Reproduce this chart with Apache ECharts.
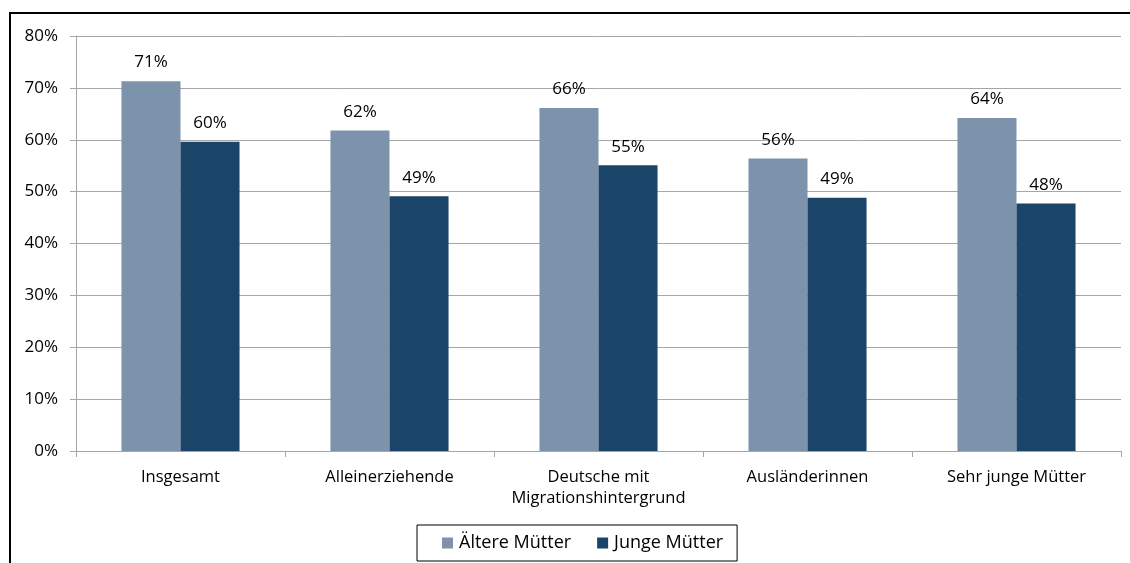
<!DOCTYPE html>
<html>
<head>
<meta charset="utf-8">
<script src="https://cdn.jsdelivr.net/npm/echarts@6/dist/echarts.min.js"></script>
<style>
  html, body { margin: 0; padding: 0; background: #fff; }
  #main { width: 1130px; height: 563px; }
</style>
</head>
<body>
<div id="main"></div>
<script>
const categories = ['Insgesamt', 'Alleinerziehende', 'Deutsche mit\nMigrationshintergrund', 'Ausländerinnen', 'Sehr junge Mütter'];
const aeltere = [71.3, 61.8, 66.1, 56.4, 64.2];
const junge = [59.6, 49.1, 55.1, 48.8, 47.7];
const yTicks = [0, 10, 20, 30, 40, 50, 60, 70, 80];

const FONT = '"Open Sans", "DejaVu Sans", sans-serif';
const chart = echarts.init(document.getElementById('main'));

const labelStyle = {
    show: true,
    position: 'top',
    distance: 10,
    color: '#000',
    fontFamily: FONT,
    fontSize: 17,
    formatter: p => Math.round(p.value) + '%'
};

chart.setOption({
    animation: false,
    graphic: [{
        type: 'rect',
        shape: { x: 10, y: 13, width: 1200, height: 600 },
        style: { fill: 'none', stroke: '#000', lineWidth: 2 },
        z: 0
    }],
    legend: {
        bottom: 2,
        left: 417,
        itemWidth: 11,
        itemHeight: 11,
        itemGap: 26,
        padding: [9, 14, 9, 25],
        borderColor: '#000',
        borderWidth: 1,
        icon: 'rect',
        textStyle: { fontFamily: FONT, fontSize: 18, color: '#000', padding: [0, 0, 0, 1] },
        data: ['Ältere Mütter', 'Junge Mütter']
    },
    grid: { left: 76, right: 9, top: 36, bottom: 112 },
    xAxis: {
        type: 'category',
        data: categories,
        axisLine: { lineStyle: { color: '#a6a6a6' } },
        axisTick: { show: true, length: 6, lineStyle: { color: '#a6a6a6' } },
        axisLabel: { interval: 0, color: '#000', fontFamily: FONT, fontSize: 16.5, margin: 16, lineHeight: 21 }
    },
    yAxis: {
        type: 'value',
        min: yTicks[0],
        max: yTicks[yTicks.length - 1],
        interval: 10,
        axisLine: { show: true, lineStyle: { color: '#a6a6a6' } },
        axisTick: { show: true, length: 6, lineStyle: { color: '#a6a6a6' } },
        splitLine: { lineStyle: { color: '#a6a6a6' } },
        axisLabel: { color: '#000', fontFamily: FONT, fontSize: 17, margin: 18, formatter: v => v + '%' }
    },
    series: [{
        name: 'Ältere Mütter',
        type: 'bar',
        data: aeltere,
        barGap: '0%',
        barCategoryGap: '43.5%',
        itemStyle: { color: '#7d93ab' },
        label: labelStyle
    }, {
        name: 'Junge Mütter',
        type: 'bar',
        data: junge,
        itemStyle: { color: '#1b4469' },
        label: labelStyle
    }]
});
</script>
</body>
</html>
